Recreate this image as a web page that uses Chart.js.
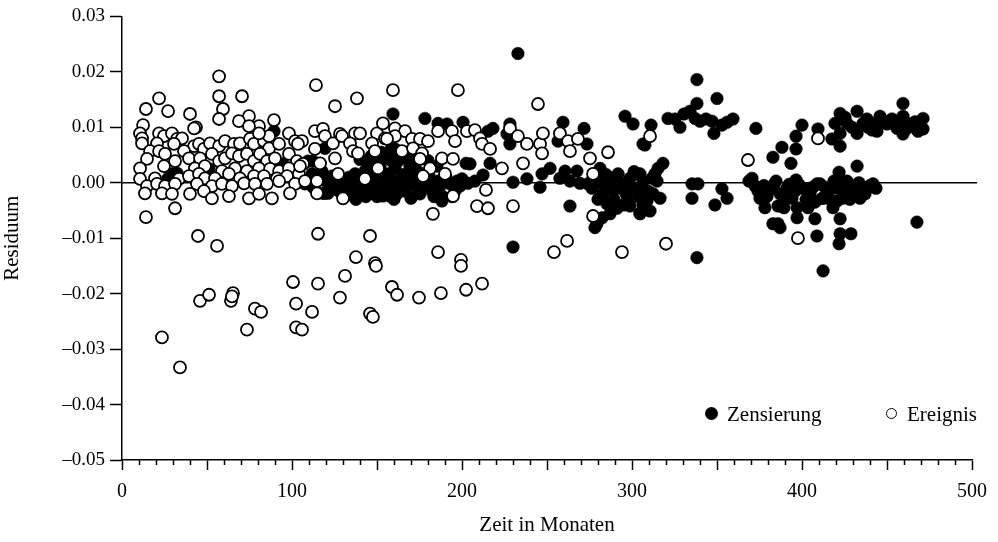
<!DOCTYPE html>
<html>
<head>
<meta charset="utf-8">
<script src="https://cdn.jsdelivr.net/npm/chart.js@4.4.0/dist/chart.umd.min.js"></script>
<style>
  body { margin: 0; background: #fff; }
  #wrap { position: relative; width: 998px; height: 542px; }
  .leg { position: absolute; font: 21px "Liberation Serif", "Times New Roman", serif; line-height: 21px; color: #000; white-space: nowrap; }
  .dot { position: absolute; border-radius: 50%; box-sizing: border-box; }
</style>
</head>
<body>
<div id="wrap">
  <canvas id="myChart"></canvas>
  <div class="dot" style="left:705px;top:407px;width:13px;height:13px;background:#000;"></div>
  <div class="leg" style="left:727px;top:404px;">Zensierung</div>
  <div class="dot" style="left:886px;top:408px;width:11px;height:11px;border:1.5px solid #000;background:#fff;"></div>
  <div class="leg" style="left:907px;top:404px;">Ereignis</div>
</div>
<script>
// [Monat, Residuum]
const ereignis = [
  [14.1,-0.0062],[23.5,-0.0279],[34.1,-0.0333],[44.7,-0.0096],[55.9,-0.0114],[45.9,-0.0213],[51.2,-0.0202],
  [64.1,-0.0213],[65.3,-0.0199],[64.7,-0.0205],[73.5,-0.0265],[78.2,-0.0227],[81.8,-0.0233],[100.6,-0.0179],
  [102.4,-0.0218],[102.4,-0.0261],[105.9,-0.0265],[111.8,-0.0233],[115.3,-0.0182],[115.3,-0.0092],[145.9,-0.0096],
  [137.6,-0.0134],[131.2,-0.0168],[128.2,-0.0207],[148.8,-0.0145],[149.4,-0.0150],[145.9,-0.0236],[147.6,-0.0242],
  [158.8,-0.0188],[161.8,-0.0202],[174.7,-0.0207],[185.9,-0.0125],[187.6,-0.0199],[199.4,-0.0139],[199.4,-0.0150],
  [202.4,-0.0193],[211.8,-0.0182],[254.1,-0.0125],[261.8,-0.0105],[294.1,-0.0125],[320.0,-0.0110],[397.6,-0.0100],
  [31.2,-0.0046],[182.9,-0.0056],[194.7,-0.0024],[208.8,-0.0042],[215.3,-0.0046],[230.0,-0.0042],[214.1,-0.0013],
  [277.1,-0.0060],[130.0,-0.0028],[114.7,-0.0019],
  [57.1,0.0192],[57.1,0.0156],[59.4,0.0133],[57.1,0.0115],[70.6,0.0156],[21.8,0.0152],[14.1,0.0133],[27.1,0.0129],
  [12.4,0.0104],[40.0,0.0124],[43.5,0.0100],[114.1,0.0176],[125.3,0.0138],[138.2,0.0152],[159.4,0.0167],
  [197.6,0.0167],[244.7,0.0142],[310.6,0.0084],[368.2,0.0041],[409.4,0.0080],
  [74.7,0.0120],[68.8,0.0111],[89.4,0.0113],[80.6,0.0102],[74.7,0.0102],[42.4,0.0098],[10.6,0.0089],
  [11.8,0.0080],[11.8,0.0071],[21.8,0.0089],[24.7,0.0084],[29.4,0.0089],[32.4,0.0079],[35.3,0.0080],[20.6,0.0071],
  [30.6,0.0070],[42.4,0.0066],[45.3,0.0070],[48.2,0.0061],[51.8,0.0071],[57.1,0.0066],[60.6,0.0075],[65.9,0.0070],
  [69.4,0.0071],[75.3,0.0079],[77.6,0.0070],[83.5,0.0075],[86.5,0.0062],[92.4,0.0070],[98.2,0.0089],[101.8,0.0075],
  [86.5,0.0084],[80.6,0.0089],[16.5,0.0057],[14.7,0.0043],[10.6,0.0026],[21.8,0.0057],[25.3,0.0052],[36.5,0.0057],
  [39.4,0.0044],[31.2,0.0039],[45.9,0.0044],[52.9,0.0052],[57.1,0.0039],[60.6,0.0044],[64.7,0.0053],[68.8,0.0048],
  [73.5,0.0052],[77.6,0.0039],[81.2,0.0052],[85.3,0.0039],[90.0,0.0044],[98.2,0.0052],[102.9,0.0039],[24.7,0.0030],
  [42.9,0.0026],[48.8,0.0030],[58.8,0.0021],[66.5,0.0026],[73.5,0.0021],[80.6,0.0026],[87.1,0.0025],[92.4,0.0021],
  [98.2,0.0026],[10.6,0.0007],[19.4,0.0008],[33.5,0.0007],[39.4,0.0012],[45.3,0.0016],[48.8,0.0008],[54.7,0.0008],
  [62.9,0.0016],[69.4,0.0008],[77.6,0.0012],[83.5,0.0012],[91.2,0.0008],[97.1,0.0012],[104.1,0.0016],[14.7,-0.0006],
  [20.6,-0.0002],[25.3,-0.0006],[31.2,-0.0002],[44.1,-0.0002],[52.9,-0.0006],[58.8,-0.0002],[64.7,-0.0006],
  [71.8,-0.0001],[78.2,-0.0002],[85.3,-0.0002],[92.4,0.0003],[101.8,-0.0002],[13.5,-0.0019],[23.5,-0.0019],
  [29.4,-0.0020],[40.0,-0.0020],[48.2,-0.0015],[52.9,-0.0028],[62.9,-0.0024],[74.7,-0.0028],[80.6,-0.0020],
  [88.2,-0.0028],[98.8,-0.0019],
  [113.5,0.0093],[118.2,0.0097],[119.4,0.0084],[128.2,0.0088],[137.1,0.0089],[140.0,0.0089],[150.0,0.0089],
  [153.5,0.0107],[160.6,0.0098],[166.5,0.0093],[154.7,0.0080],[160.6,0.0084],[105.9,0.0075],[103.5,0.0070],
  [113.5,0.0061],[124.1,0.0071],[129.4,0.0084],[134.1,0.0071],[147.1,0.0071],[155.9,0.0079],[170.6,0.0079],
  [175.3,0.0079],[180.0,0.0075],[185.9,0.0093],[194.1,0.0093],[195.9,0.0075],[202.9,0.0093],[106.5,0.0034],
  [116.5,0.0035],[125.3,0.0044],[135.9,0.0057],[138.8,0.0053],[148.8,0.0057],[164.7,0.0057],[171.2,0.0062],
  [176.5,0.0053],[188.2,0.0044],[194.7,0.0043],[104.7,0.0030],[127.1,0.0016],[142.9,0.0007],[150.6,0.0026],
  [175.3,0.0043],[181.2,0.0026],[177.1,0.0012],[190.0,0.0016],[107.6,0.0003],[114.7,0.0003],
  [207.6,0.0095],[210.6,0.0080],[211.8,0.0070],[216.5,0.0061],[228.2,0.0098],[232.9,0.0084],[238.2,0.0070],
  [245.9,0.0070],[247.1,0.0053],[247.6,0.0089],[257.6,0.0089],[262.4,0.0075],[263.5,0.0057],[268.2,0.0079],
  [275.3,0.0044],[285.9,0.0055],[223.5,0.0026],[235.9,0.0035],[277.1,0.0016]
];

const zensierung = [
  [232.9,0.0233],[230.0,-0.0116],[338.2,-0.0135],[408.8,-0.0096],[421.8,-0.0110],[428.8,-0.0092],[412.4,-0.0159],
  [467.6,-0.0071],[278.2,-0.0081],[382.9,-0.0074],[387.1,-0.0081],[397.1,-0.0063],[397.1,-0.0045],[407.6,-0.0065],
  [422.4,-0.0065],[422.4,-0.0092],[263.5,-0.0042],[279.4,-0.0074],[282.4,-0.0063],[188.2,-0.0033],
  [338.2,0.0186],[350.0,0.0152],[338.2,0.0143],[321.2,0.0116],[325.3,0.0115],[330.6,0.0124],[334.1,0.0129],
  [337.1,0.0116],[340.0,0.0111],[343.5,0.0115],[347.1,0.0111],[348.2,0.0089],[352.9,0.0104],[355.9,0.0109],
  [359.4,0.0115],[328.2,0.0100],[372.9,0.0098],[311.2,0.0104],[307.6,0.0068],[295.9,0.0120],[300.6,0.0106],
  [306.5,0.0070],[400.0,0.0104],[409.4,0.0097],[396.5,0.0084],[388.2,0.0064],[396.5,0.0061],[382.9,0.0046],
  [393.5,0.0035],[421.8,0.0019],[432.4,0.0030],[459.4,0.0143],[422.4,0.0125],[432.4,0.0129],[445.9,0.0120],
  [459.4,0.0120],[471.2,0.0116],[419.4,0.0107],[426.5,0.0107],[435.9,0.0107],[441.8,0.0106],[450.0,0.0106],
  [455.9,0.0098],[463.5,0.0106],[471.2,0.0097],[422.4,0.0089],[432.4,0.0089],[444.1,0.0093],[459.4,0.0088],
  [468.2,0.0093],[417.6,0.0079],[422.4,0.0066],
  [425.3,0.0118],[429.4,0.0100],[438.2,0.0115],[441.2,0.0095],[447.6,0.0110],[452.9,0.0115],[456.5,0.0105],
  [461.8,0.0098],[466.5,0.0110],[438.8,0.0100],
  [159.4,0.0124],[178.2,0.0116],[191.2,0.0106],[200.6,0.0109],[218.2,0.0098],[215.3,0.0093],[228.2,0.0106],
  [228.2,0.0070],[226.5,0.0088],[259.4,0.0109],[271.8,0.0098],[273.5,0.0070],[256.5,0.0075],[216.5,0.0035],
  [202.4,0.0035],[212.4,0.0014],[230.0,0.0001],[238.2,0.0007],[245.9,-0.0008],[251.8,0.0026],[247.1,0.0016],
  [257.6,0.0008],[260.6,0.0021],[263.5,0.0003],[267.6,0.0021],[269.4,-0.0001],[274.1,-0.0002],[277.1,0.0008],
  [281.2,0.0026],[282.9,-0.0002],[287.1,0.0008],[291.8,0.0016],[294.7,-0.0002],[298.8,0.0008],[302.9,0.0016],
  [306.5,0.0003],[282.9,-0.0020],[285.3,-0.0038],[287.1,-0.0056],[291.2,-0.0046],[297.1,-0.0033],[298.8,-0.0042],
  [304.7,-0.0055],[204.7,0.0034],
  [276.5,-0.0010],[279.4,0.0012],[284.1,-0.0008],[288.8,-0.0015],[290.0,0.0003],[293.5,-0.0010],[296.5,-0.0020],
  [300.0,-0.0008],[303.5,-0.0025],[301.2,0.0020],[295.3,-0.0040],[306.5,-0.0040],[289.4,-0.0030],[280.0,-0.0030],
  [284.7,0.0015],[309.4,-0.0015],[311.8,0.0008],
  [304.7,0.0016],[306.5,-0.0010],[308.8,-0.0033],[310.6,-0.0051],[312.4,-0.0020],[314.7,0.0003],[315.3,0.0026],
  [318.2,0.0035],[316.5,-0.0028],[313.5,0.0016],[304.7,-0.0056],[335.3,-0.0002],[335.3,-0.0028],[338.8,-0.0002],
  [348.8,-0.0040],[352.9,-0.0011],[355.9,-0.0028],[370.6,0.0008],[372.4,-0.0006],[375.3,-0.0028],[380.0,-0.0010],
  [385.9,-0.0042],[387.1,-0.0020],[391.2,-0.0010],[394.1,-0.0028],[400.0,-0.0010],[404.7,-0.0020],[408.8,-0.0002],
  [411.8,-0.0028],[416.5,-0.0010],[420.6,-0.0033],[422.4,-0.0002],[425.3,-0.0020],[430.0,-0.0010],[434.1,-0.0028],
  [438.2,-0.0010],[441.8,-0.0002],[385.9,-0.0074],[382.4,-0.0011],[404.7,-0.0010],[410.6,-0.0002],[414.7,-0.0019],
  [420.6,-0.0010],[424.1,-0.0028],[435.9,-0.0020],[412.4,-0.0028],
  [368.8,0.0003],[374.1,-0.0015],[377.6,-0.0005],[379.4,-0.0025],[383.5,-0.0003],[389.4,-0.0030],[392.4,-0.0003],
  [395.9,-0.0015],[398.2,-0.0003],[402.4,-0.0030],[406.5,-0.0008],[407.6,-0.0035],[413.5,-0.0008],[416.5,-0.0030],
  [418.8,0.0003],[427.6,-0.0003],[428.2,-0.0030],[432.4,-0.0015],[437.1,-0.0020],[440.0,-0.0005],[443.5,-0.0010],
  [378.2,-0.0045],[389.4,-0.0045],[403.5,-0.0045],[418.2,-0.0045],[384.7,0.0003],[396.5,0.0005],[426.5,0.0003],
  [433.5,0.0000],
  [109.4,0.0039],[117.6,0.0021],[121.2,-0.0019],[129.4,-0.0002],[137.1,0.0016],[144.1,-0.0010],[147.6,-0.0019],
  [152.9,0.0003],[156.5,0.0016],[158.8,0.0039],[160.6,-0.0010],[166.5,-0.0015],[168.2,0.0016],[173.5,-0.0010],
  [179.4,-0.0006],[185.9,0.0003],[188.2,-0.0024],[192.9,-0.0002],[200.0,0.0007],[203.5,-0.0001],[156.5,0.0044],
  [160.6,0.0026],[150.6,-0.0010],[153.5,-0.0024],[141.2,-0.0020],[132.9,-0.0011],[125.3,-0.0006],[118.2,-0.0019],
  [121.2,-0.0001],[107.6,-0.0002],[160.6,0.0061],[148.8,0.0021],[164.7,0.0007],[185.9,0.0107],
  [140.0,0.0003],[145.9,0.0012],[154.7,-0.0006],[163.5,-0.0002],[170.6,0.0003],[175.3,-0.0020],[182.4,-0.0015],
  [131.2,-0.0024],[137.1,-0.0015],[142.9,0.0021],[151.8,0.0030],[162.4,0.0039],[169.4,0.0030],[134.1,0.0003],
  [157.6,-0.0024],[195.9,-0.0015],[198.8,-0.0006],[207.6,0.0003],
  [112.4,-0.0008],[115.9,0.0010],[123.5,0.0012],[127.6,-0.0015],[133.5,0.0010],[139.4,-0.0008],[143.5,-0.0025],
  [146.5,0.0005],[150.0,-0.0025],[155.3,-0.0015],[158.2,0.0008],[161.8,-0.0020],[165.3,0.0015],[167.6,-0.0005],
  [171.8,0.0010],[174.1,0.0020],[177.6,-0.0008],[180.6,0.0012],[183.5,-0.0025],[186.5,-0.0010],[190.6,0.0010],
  [194.1,-0.0025],[197.1,0.0003],[150.0,0.0040],[145.3,0.0030],[140.0,0.0042],[165.9,0.0045],[172.4,0.0035],
  [137.6,-0.0030],[160.0,-0.0030],[170.0,-0.0028],[152.4,0.0055],[158.2,0.0060],[163.5,0.0050],[168.8,0.0055],
  [174.7,0.0048],[180.0,0.0040],[185.3,0.0030],[146.5,0.0048],
  [29.4,0.0016],[32.4,0.0017],[27.1,0.0008],[51.2,0.0025],[89.4,0.0093],[94.7,0.0034],[112.4,0.0039],
  [119.4,0.0062],[82.9,0.0021],[111.8,0.0016],[119.4,-0.0019]
];

const nullLinie = [0, 503];
const xTicks = { min: 0, max: 500, step: 10 };
const yTicks = { min: -0.05, max: 0.03, step: 0.01 };

const serif = '"Liberation Serif", "Times New Roman", serif';

// short ticks every 10 months, the long ones come from the grid
const minorTicks = {
  id: 'minorTicks',
  afterDraw(chart) {
    const sx = chart.scales.x;
    const ctx = chart.ctx;
    ctx.save();
    ctx.strokeStyle = '#000';
    ctx.lineWidth = 1.5;
    for (let v = xTicks.min; v <= xTicks.max; v += xTicks.step) {
      if (v % 50 === 0) continue;
      const px = Math.round(sx.getPixelForValue(v)) + 0.5;
      ctx.beginPath();
      ctx.moveTo(px, sx.top);
      ctx.lineTo(px, sx.top + 5);
      ctx.stroke();
    }
    ctx.restore();
  }
};

var ctx = document.getElementById('myChart').getContext('2d');
const myChart = new Chart(ctx, {
  type: 'scatter',
  data: {
    datasets: [
      {
        label: 'Ereignis',
        data: ereignis.map(p => ({ x: p[0], y: p[1] })),
        pointRadius: 6,
        backgroundColor: '#fff',
        borderColor: '#000',
        borderWidth: 1.8,
        order: 1
      },
      {
        label: 'Zensierung',
        data: zensierung.map(p => ({ x: p[0], y: p[1] })),
        pointRadius: 6.3,
        backgroundColor: '#000',
        borderColor: '#000',
        borderWidth: 0.5,
        order: 2
      },
      {
        type: 'line',
        label: 'null',
        data: nullLinie.map(x => ({ x: x, y: 0 })),
        borderColor: '#000',
        borderWidth: 1.5,
        pointRadius: 0,
        clip: false,
        order: 3
      }
    ]
  },
  options: {
    responsive: true,
    maintainAspectRatio: false,
    animation: false,
    events: [],
    layout: { padding: { top: 15, right: 26, left: 0, bottom: 0 } },
    plugins: { legend: { display: false }, tooltip: { enabled: false } },
    scales: {
      x: {
        type: 'linear',
        min: xTicks.min,
        max: xTicks.max,
        border: { color: '#000', width: 1.5 },
        grid: {
          drawOnChartArea: false,
          tickLength: 10,
          tickWidth: 1.5,
          tickColor: c => (c.tick && c.tick.value % 50 === 0) ? '#000' : 'rgba(0,0,0,0)'
        },
        ticks: {
          stepSize: xTicks.step,
          autoSkip: false,
          maxRotation: 0,
          padding: 10,
          color: '#000',
          font: { family: serif, size: 20 },
          callback: v => (v % 100 === 0) ? String(v) : ''
        },
        title: {
          display: true,
          text: 'Zeit in Monaten',
          color: '#000',
          font: { family: serif, size: 21 },
          padding: { top: 0, bottom: 4 }
        },
        afterFit: s => { s.height = 82; }
      },
      y: {
        type: 'linear',
        min: yTicks.min,
        max: yTicks.max,
        border: { color: '#000', width: 1.5 },
        grid: {
          drawOnChartArea: false,
          tickLength: 12,
          tickWidth: 1.5,
          tickColor: '#000'
        },
        ticks: {
          stepSize: yTicks.step,
          autoSkip: false,
          padding: 5,
          color: '#000',
          font: { family: serif, size: 19 },
          callback: v => {
            if (Math.abs(v) < 1e-9) return '0.00';
            return v.toFixed(2).replace('-', '\u2013');
          }
        },
        title: {
          display: true,
          text: 'Residuum',
          color: '#000',
          font: { family: serif, size: 21 },
          padding: { top: 0, bottom: 0 }
        },
        afterFit: s => { s.width = 122; }
      }
    }
  },
  plugins: [minorTicks]
});
</script>
</body>
</html>
